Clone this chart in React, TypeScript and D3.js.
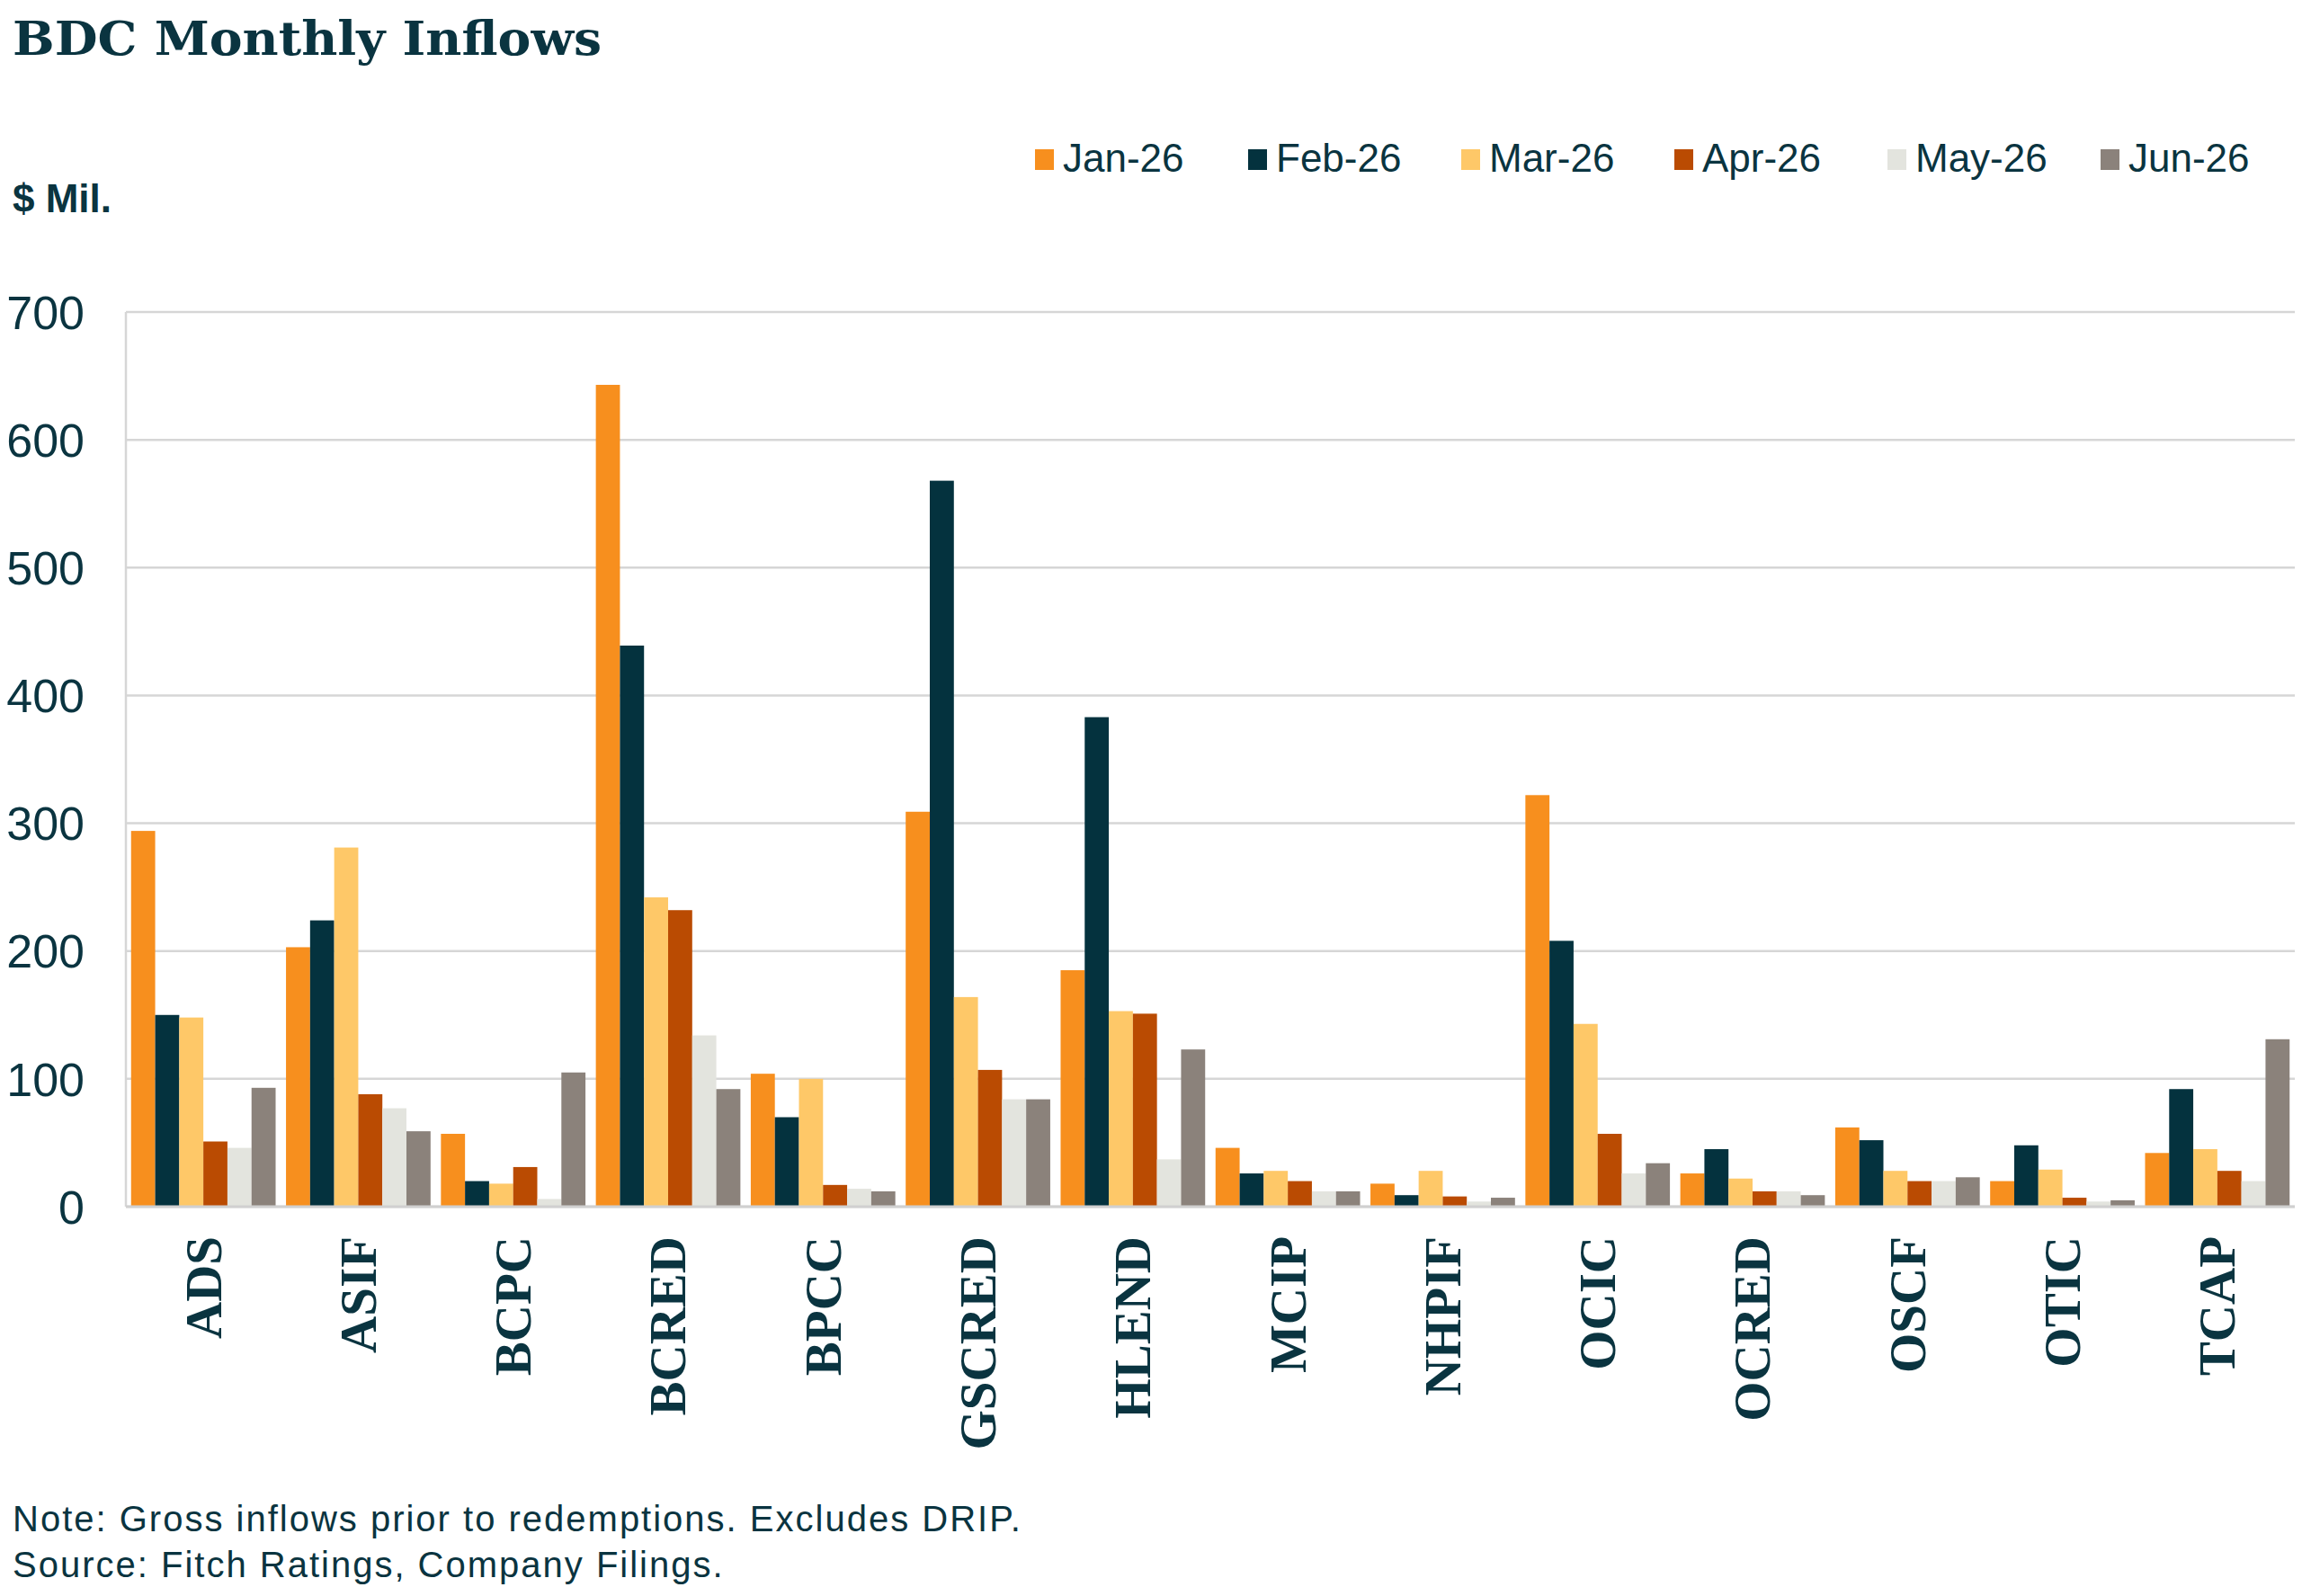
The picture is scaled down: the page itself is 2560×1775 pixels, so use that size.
import React, { useEffect, useRef } from 'react';
import * as d3 from 'd3';

const funds = ['ADS', 'ASIF', 'BCPC', 'BCRED', 'BPCC', 'GSCRED', 'HLEND', 'MCIP', 'NHPIF', 'OCIC', 'OCRED', 'OSCF', 'OTIC', 'TCAP'];
const months = ['Jan-26', 'Feb-26', 'Mar-26', 'Apr-26', 'May-26', 'Jun-26'];
const monthColors = ['#F78F1E', '#04323E', '#FEC868', '#BA4B02', '#E3E4DE', '#8B827B'];

// $ Mil. per fund, one array per month
const jan26 = [294, 203, 57, 643, 104, 309, 185, 46, 18, 322, 26, 62, 20, 42];
const feb26 = [150, 224, 20, 439, 70, 568, 383, 26, 9, 208, 45, 52, 48, 92];
const mar26 = [148, 281, 18, 242, 100, 164, 153, 28, 28, 143, 22, 28, 29, 45];
const apr26 = [51, 88, 31, 232, 17, 107, 151, 20, 8, 57, 12, 20, 7, 28];
const may26 = [46, 77, 6, 134, 14, 84, 37, 12, 4, 26, 12, 20, 4, 20];
const jun26 = [93, 59, 105, 92, 12, 84, 123, 12, 7, 34, 9, 23, 5, 131];

const yTicks = [0, 100, 200, 300, 400, 500, 600, 700];

const title = 'BDC Monthly Inflows';
const unitLabel = '$ Mil.';
const notes = ['Note: Gross inflows prior to redemptions. Excludes DRIP.', 'Source: Fitch Ratings, Company Filings.'];

const W = 2560;
const H = 1775;
const INK = '#0A3440';
const SANS = '"Liberation Sans", Arial, Helvetica, sans-serif';
const SERIF = '"Liberation Serif", "Times New Roman", serif';

export default function App() {
  const svgRef = useRef<SVGSVGElement>(null);

  useEffect(() => {
    if (!svgRef.current) return;
    const root = d3.select(svgRef.current);
    root.selectAll('*').remove();

    const series = [jan26, feb26, mar26, apr26, may26, jun26];
    const rows = funds.map((f, i) => ({ fund: f, values: series.map(s => s[i]) }));

    const plot = { left: 140, right: 2552, top: 347, bottom: 1342 };

    const x0 = d3
      .scaleBand<string>()
      .domain(funds)
      .range([plot.left, plot.right])
      .paddingInner(0.067)
      .paddingOuter(0.0335);

    const x1 = d3
      .scaleBand<string>()
      .domain(months)
      .range([0, x0.bandwidth()])
      .padding(0);

    const y = d3.scaleLinear().domain([0, 700]).range([plot.bottom, plot.top]);

    // Title
    root
      .append('text')
      .attr('x', 14)
      .attr('y', 61)
      .attr('fill', INK)
      .attr('font-family', '"DejaVu Serif", Georgia, serif')
      .attr('font-weight', 700)
      .attr('font-size', 52)
      .attr('textLength', 655)
      .attr('lengthAdjust', 'spacingAndGlyphs')
      .text(title);

    // Unit label
    root
      .append('text')
      .attr('x', 14)
      .attr('y', 236)
      .attr('fill', INK)
      .attr('font-family', SANS)
      .attr('font-weight', 700)
      .attr('font-size', 44)
      .text(unitLabel);

    // Legend
    const legend = root.append('g');
    months.forEach((m, i) => {
      const lx = 1151 + i * 237;
      legend
        .append('rect')
        .attr('x', lx)
        .attr('y', 166)
        .attr('width', 21)
        .attr('height', 23)
        .attr('fill', monthColors[i]);
      legend
        .append('text')
        .attr('x', lx + 31)
        .attr('y', 191)
        .attr('fill', INK)
        .attr('font-family', SANS)
        .attr('font-size', 44)
        .text(m);
    });

    // Gridlines
    root
      .append('g')
      .selectAll('line')
      .data(yTicks)
      .enter()
      .append('line')
      .attr('x1', plot.left)
      .attr('x2', plot.right)
      .attr('y1', d => y(d))
      .attr('y2', d => y(d))
      .attr('stroke', '#D6D6D6')
      .attr('stroke-width', 2.5);

    // Y axis line
    root
      .append('line')
      .attr('x1', plot.left)
      .attr('x2', plot.left)
      .attr('y1', plot.top)
      .attr('y2', plot.bottom)
      .attr('stroke', '#D6D6D6')
      .attr('stroke-width', 2.5);

    // Y tick labels
    root
      .append('g')
      .selectAll('text')
      .data(yTicks)
      .enter()
      .append('text')
      .attr('x', 94)
      .attr('y', d => y(d))
      .attr('dy', '0.36em')
      .attr('text-anchor', 'end')
      .attr('fill', INK)
      .attr('font-family', SANS)
      .attr('font-size', 52)
      .text(d => d);

    // Bars
    const groups = root
      .append('g')
      .selectAll('g')
      .data(rows)
      .enter()
      .append('g')
      .attr('transform', d => `translate(${x0(d.fund)},0)`);

    groups
      .selectAll('rect')
      .data(d => d.values.map((v, i) => ({ month: months[i], value: v, color: monthColors[i] })))
      .enter()
      .append('rect')
      .attr('x', d => x1(d.month)!)
      .attr('width', x1.bandwidth())
      .attr('y', d => y(d.value))
      .attr('height', d => plot.bottom - y(d.value))
      .attr('fill', d => d.color);

    // Baseline
    root
      .append('line')
      .attr('x1', plot.left)
      .attr('x2', plot.right)
      .attr('y1', plot.bottom)
      .attr('y2', plot.bottom)
      .attr('stroke', '#D0D0D0')
      .attr('stroke-width', 3);

    // Category labels (rotated)
    root
      .append('g')
      .selectAll('text')
      .data(funds)
      .enter()
      .append('text')
      .attr('transform', d => `translate(${x0(d)! + x0.bandwidth() / 2},1375) rotate(-90)`)
      .attr('dy', '0.34em')
      .attr('text-anchor', 'end')
      .attr('fill', INK)
      .attr('font-family', SERIF)
      .attr('font-weight', 700)
      .attr('font-size', 57)
      .text(d => d);

    // Footnotes
    root
      .append('g')
      .selectAll('text')
      .data(notes)
      .enter()
      .append('text')
      .attr('x', 14)
      .attr('y', (_, i) => 1703 + i * 51)
      .attr('fill', INK)
      .attr('font-family', SANS)
      .attr('font-size', 40)
      .attr('letter-spacing', 2)
      .text(d => d);
  }, []);

  return (
    <svg
      ref={svgRef}
      width={W}
      height={H}
      style={{ position: 'absolute', left: 0, top: 0, background: '#fff', display: 'block' }}
    />
  );
}
